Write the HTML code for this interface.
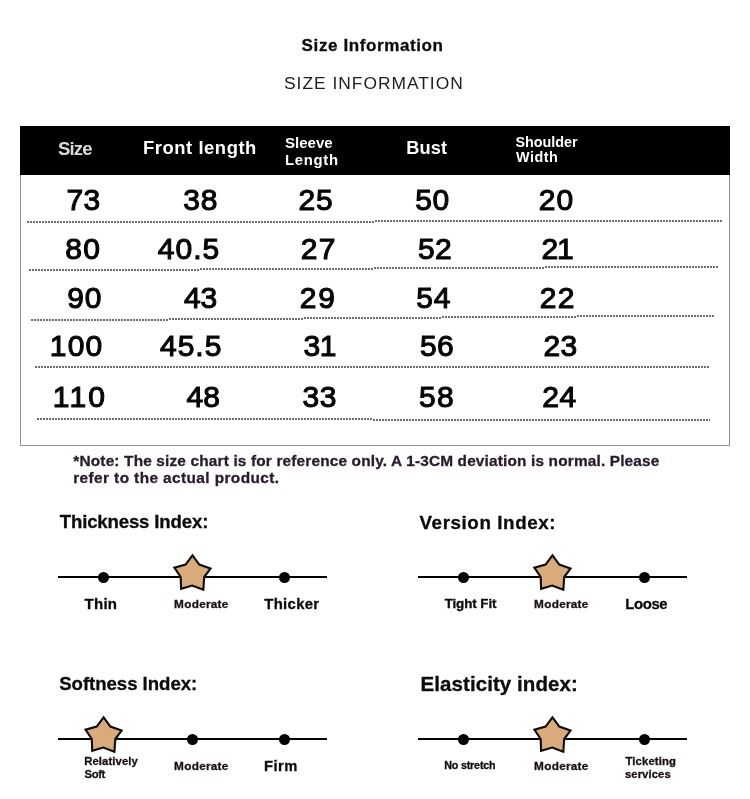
<!DOCTYPE html>
<html><head><meta charset="utf-8"><title>Size Information</title>
<style>
html,body{margin:0;padding:0;background:#fff;}
body{width:750px;height:799px;position:relative;overflow:hidden;font-family:"Liberation Sans",sans-serif;color:#111;}
.t{position:absolute;white-space:nowrap;line-height:1;margin:0;}
.box{position:absolute;left:20px;top:126px;width:710px;height:320px;border:1px solid #8f8f8f;box-sizing:border-box;}
.hd{position:absolute;left:20px;top:126px;width:710px;height:48.7px;background:#000;}
.dl{position:absolute;height:2px;background:repeating-linear-gradient(90deg,#6e6e6e 0,#6e6e6e 2px,transparent 2px,transparent 3px);}
.ln{position:absolute;height:2px;background:#000;}
.dot{position:absolute;width:11px;height:11px;border-radius:50%;background:#000;}
svg.star{position:absolute;overflow:visible;}
</style></head><body>
<div class="box"></div>
<div class="hd"></div>
<div class="dl" style="left:27px;top:221px;width:348px;"></div>
<div class="dl" style="left:375px;top:220px;width:347px;"></div>
<div class="dl" style="left:29px;top:269px;width:171px;"></div>
<div class="dl" style="left:200px;top:268px;width:174px;"></div>
<div class="dl" style="left:374px;top:267px;width:171px;"></div>
<div class="dl" style="left:545px;top:266px;width:173px;"></div>
<div class="dl" style="left:31px;top:319px;width:138px;"></div>
<div class="dl" style="left:169px;top:318px;width:135px;"></div>
<div class="dl" style="left:304px;top:317px;width:138px;"></div>
<div class="dl" style="left:442px;top:316px;width:135px;"></div>
<div class="dl" style="left:577px;top:315px;width:137px;"></div>
<div class="dl" style="left:35px;top:366px;width:674px;"></div>
<div class="dl" style="left:37px;top:418px;width:336px;"></div>
<div class="dl" style="left:373px;top:419px;width:337px;"></div>
<div class="t" style="left:301.62px;top:37.0px;font-size:17px;font-weight:bold;color:#0c0c0c;letter-spacing:0.61px;-webkit-text-stroke:0.3px #0c0c0c;">Size Information</div>
<div class="t" style="left:284.01px;top:75.0px;font-size:17.4px;font-weight:normal;color:#1e1e1e;letter-spacing:0.99px;">SIZE INFORMATION</div>
<div class="t" style="left:58.04px;top:140.0px;font-size:18.6px;font-weight:bold;color:#dadada;letter-spacing:-0.89px;">Size</div>
<div class="t" style="left:143.03px;top:139.0px;font-size:18.4px;font-weight:bold;color:#fff;letter-spacing:0.55px;">Front length</div>
<div class="t" style="left:284.93px;top:135.0px;font-size:15.1px;font-weight:bold;color:#fff;letter-spacing:0.00px;">Sleeve</div>
<div class="t" style="left:285.00px;top:153.0px;font-size:14.9px;font-weight:bold;color:#fff;letter-spacing:0.70px;">Length</div>
<div class="t" style="left:406.37px;top:139.0px;font-size:18.2px;font-weight:bold;color:#fff;letter-spacing:0.11px;">Bust</div>
<div class="t" style="left:515.48px;top:135.0px;font-size:14.4px;font-weight:bold;color:#fff;letter-spacing:-0.05px;">Shoulder</div>
<div class="t" style="left:516.00px;top:150.0px;font-size:14.4px;font-weight:bold;color:#fff;letter-spacing:0.50px;">Width</div>
<div class="t" style="left:66.52px;top:185.0px;font-size:30px;font-weight:normal;color:#060606;letter-spacing:0.32px;-webkit-text-stroke:1.1px #060606;">73</div>
<div class="t" style="left:183.25px;top:185.0px;font-size:30px;font-weight:normal;color:#060606;letter-spacing:0.76px;-webkit-text-stroke:1.1px #060606;">38</div>
<div class="t" style="left:298.61px;top:185.0px;font-size:30px;font-weight:normal;color:#060606;letter-spacing:0.78px;-webkit-text-stroke:1.1px #060606;">25</div>
<div class="t" style="left:415.36px;top:185.0px;font-size:30px;font-weight:normal;color:#060606;letter-spacing:0.49px;-webkit-text-stroke:1.1px #060606;">50</div>
<div class="t" style="left:538.87px;top:185.0px;font-size:30px;font-weight:normal;color:#060606;letter-spacing:1.03px;-webkit-text-stroke:1.1px #060606;">20</div>
<div class="t" style="left:65.18px;top:234.0px;font-size:30px;font-weight:normal;color:#060606;letter-spacing:1.46px;-webkit-text-stroke:1.1px #060606;">80</div>
<div class="t" style="left:157.69px;top:234.0px;font-size:30px;font-weight:normal;color:#060606;letter-spacing:1.04px;-webkit-text-stroke:1.1px #060606;">40.5</div>
<div class="t" style="left:300.87px;top:234.0px;font-size:30px;font-weight:normal;color:#060606;letter-spacing:1.17px;-webkit-text-stroke:1.1px #060606;">27</div>
<div class="t" style="left:417.95px;top:234.0px;font-size:30px;font-weight:normal;color:#060606;letter-spacing:0.45px;-webkit-text-stroke:1.1px #060606;">52</div>
<div class="t" style="left:541.53px;top:234.0px;font-size:30px;font-weight:normal;color:#060606;letter-spacing:-1.23px;-webkit-text-stroke:1.1px #060606;">21</div>
<div class="t" style="left:67.19px;top:283.0px;font-size:30px;font-weight:normal;color:#060606;letter-spacing:0.81px;-webkit-text-stroke:1.1px #060606;">90</div>
<div class="t" style="left:184.00px;top:283.0px;font-size:30px;font-weight:normal;color:#060606;letter-spacing:-0.10px;-webkit-text-stroke:1.1px #060606;">43</div>
<div class="t" style="left:299.87px;top:283.0px;font-size:30px;font-weight:normal;color:#060606;letter-spacing:1.60px;-webkit-text-stroke:1.1px #060606;">29</div>
<div class="t" style="left:416.36px;top:283.0px;font-size:30px;font-weight:normal;color:#060606;letter-spacing:0.82px;-webkit-text-stroke:1.1px #060606;">54</div>
<div class="t" style="left:539.87px;top:283.0px;font-size:30px;font-weight:normal;color:#060606;letter-spacing:1.33px;-webkit-text-stroke:1.1px #060606;">22</div>
<div class="t" style="left:49.78px;top:331.0px;font-size:30px;font-weight:normal;color:#060606;letter-spacing:1.22px;-webkit-text-stroke:1.1px #060606;">100</div>
<div class="t" style="left:160.00px;top:331.0px;font-size:30px;font-weight:normal;color:#060606;letter-spacing:1.00px;-webkit-text-stroke:1.1px #060606;">45.5</div>
<div class="t" style="left:303.38px;top:331.0px;font-size:30px;font-weight:normal;color:#060606;letter-spacing:-0.30px;-webkit-text-stroke:1.1px #060606;">31</div>
<div class="t" style="left:419.99px;top:331.0px;font-size:30px;font-weight:normal;color:#060606;letter-spacing:0.36px;-webkit-text-stroke:1.1px #060606;">56</div>
<div class="t" style="left:543.61px;top:331.0px;font-size:30px;font-weight:normal;color:#060606;letter-spacing:0.23px;-webkit-text-stroke:1.1px #060606;">23</div>
<div class="t" style="left:52.78px;top:382.0px;font-size:30px;font-weight:normal;color:#060606;letter-spacing:2.22px;-webkit-text-stroke:1.1px #060606;">110</div>
<div class="t" style="left:186.43px;top:382.0px;font-size:30px;font-weight:normal;color:#060606;letter-spacing:0.02px;-webkit-text-stroke:1.1px #060606;">48</div>
<div class="t" style="left:302.38px;top:382.0px;font-size:30px;font-weight:normal;color:#060606;letter-spacing:0.62px;-webkit-text-stroke:1.1px #060606;">33</div>
<div class="t" style="left:418.99px;top:382.0px;font-size:30px;font-weight:normal;color:#060606;letter-spacing:1.41px;-webkit-text-stroke:1.1px #060606;">58</div>
<div class="t" style="left:542.13px;top:382.0px;font-size:30px;font-weight:normal;color:#060606;letter-spacing:0.76px;-webkit-text-stroke:1.1px #060606;">24</div>
<div class="t" style="left:73.37px;top:453.0px;font-size:15.4px;font-weight:bold;color:#2a1a2e;letter-spacing:0.16px;-webkit-text-stroke:0.3px #2a1a2e;">*Note: The size chart is for reference only. A 1-3CM deviation is normal. Please</div>
<div class="t" style="left:73.22px;top:470.0px;font-size:15.4px;font-weight:bold;color:#2a1a2e;letter-spacing:0.40px;-webkit-text-stroke:0.3px #2a1a2e;">refer to the actual product.</div>
<div class="t" style="left:59.72px;top:513.0px;font-size:18.6px;font-weight:bold;color:#0c0c0c;letter-spacing:-0.15px;-webkit-text-stroke:0.3px #0c0c0c;">Thickness Index:</div>
<div class="t" style="left:419.53px;top:514.0px;font-size:18.8px;font-weight:bold;color:#0c0c0c;letter-spacing:0.59px;-webkit-text-stroke:0.3px #0c0c0c;">Version Index:</div>
<div class="t" style="left:59.21px;top:675.0px;font-size:18.6px;font-weight:bold;color:#0c0c0c;letter-spacing:-0.03px;-webkit-text-stroke:0.3px #0c0c0c;">Softness Index:</div>
<div class="t" style="left:420.62px;top:674.0px;font-size:20.5px;font-weight:bold;color:#0c0c0c;letter-spacing:0.07px;-webkit-text-stroke:0.3px #0c0c0c;">Elasticity index:</div>
<div class="t" style="left:84.57px;top:596.0px;font-size:15px;font-weight:bold;color:#0c0c0c;letter-spacing:0.25px;-webkit-text-stroke:0.3px #0c0c0c;">Thin</div>
<div class="t" style="left:174.11px;top:599.0px;font-size:11.8px;font-weight:bold;color:#180f15;letter-spacing:0.26px;-webkit-text-stroke:0.3px #180f15;">Moderate</div>
<div class="t" style="left:264.29px;top:597.0px;font-size:14.9px;font-weight:bold;color:#0c0c0c;letter-spacing:0.31px;-webkit-text-stroke:0.3px #0c0c0c;">Thicker</div>
<div class="t" style="left:444.63px;top:597.0px;font-size:13.4px;font-weight:bold;color:#0c0c0c;letter-spacing:-0.08px;-webkit-text-stroke:0.3px #0c0c0c;">Tight Fit</div>
<div class="t" style="left:534.11px;top:599.0px;font-size:11.8px;font-weight:bold;color:#180f15;letter-spacing:0.26px;-webkit-text-stroke:0.3px #180f15;">Moderate</div>
<div class="t" style="left:625.15px;top:597.0px;font-size:14.9px;font-weight:bold;color:#0c0c0c;letter-spacing:-0.34px;-webkit-text-stroke:0.3px #0c0c0c;">Loose</div>
<div class="t" style="left:84.15px;top:756.0px;font-size:11.3px;font-weight:bold;color:#180f15;letter-spacing:0.11px;-webkit-text-stroke:0.3px #180f15;">Relatively</div>
<div class="t" style="left:84.47px;top:769.0px;font-size:11.3px;font-weight:bold;color:#180f15;letter-spacing:-0.36px;-webkit-text-stroke:0.3px #180f15;">Soft</div>
<div class="t" style="left:174.11px;top:761.0px;font-size:11.8px;font-weight:bold;color:#180f15;letter-spacing:0.26px;-webkit-text-stroke:0.3px #180f15;">Moderate</div>
<div class="t" style="left:264.00px;top:759.0px;font-size:14.7px;font-weight:bold;color:#0c0c0c;letter-spacing:0.53px;-webkit-text-stroke:0.3px #0c0c0c;">Firm</div>
<div class="t" style="left:444.21px;top:760.0px;font-size:10.7px;font-weight:bold;color:#0c0c0c;letter-spacing:-0.16px;-webkit-text-stroke:0.3px #0c0c0c;">No stretch</div>
<div class="t" style="left:534.11px;top:761.0px;font-size:11.8px;font-weight:bold;color:#180f15;letter-spacing:0.26px;-webkit-text-stroke:0.3px #180f15;">Moderate</div>
<div class="t" style="left:625.52px;top:756.0px;font-size:11.3px;font-weight:bold;color:#180f15;letter-spacing:0.13px;-webkit-text-stroke:0.3px #180f15;">Ticketing</div>
<div class="t" style="left:624.90px;top:769.0px;font-size:11.3px;font-weight:bold;color:#180f15;letter-spacing:0.09px;-webkit-text-stroke:0.3px #180f15;">services</div>
<div class="ln" style="left:58px;top:576px;width:269px;"></div>
<div class="dot" style="left:98.0px;top:571.9px;"></div>
<svg class="star" style="left:0;top:0" width="750" height="799"><polygon points="192.5,555.3 199.3,564.6 210.5,568.6 204.2,577.0 203.3,589.8 192.2,585.5 181.1,588.8 180.7,577.0 174.4,567.7 185.6,564.6" fill="#d9ab7a" stroke="#0c0c0c" stroke-width="2.1" stroke-linejoin="miter"/></svg>
<div class="dot" style="left:279.0px;top:571.9px;"></div>
<div class="ln" style="left:418px;top:576px;width:269px;"></div>
<div class="dot" style="left:458.0px;top:571.9px;"></div>
<svg class="star" style="left:0;top:0" width="750" height="799"><polygon points="552.5,555.3 559.3,564.6 570.5,568.6 564.2,577.0 563.3,589.8 552.2,585.5 541.1,588.8 540.7,577.0 534.4,567.7 545.6,564.6" fill="#d9ab7a" stroke="#0c0c0c" stroke-width="2.1" stroke-linejoin="miter"/></svg>
<div class="dot" style="left:639.0px;top:571.9px;"></div>
<div class="ln" style="left:58px;top:738px;width:269px;"></div>
<svg class="star" style="left:0;top:0" width="750" height="799"><polygon points="103.6,717.3 110.4,726.6 121.6,730.6 115.3,739.0 114.4,751.8 103.3,747.5 92.2,750.8 91.8,739.0 85.5,729.7 96.7,726.6" fill="#d9ab7a" stroke="#0c0c0c" stroke-width="2.1" stroke-linejoin="miter"/></svg>
<div class="dot" style="left:186.7px;top:733.9px;"></div>
<div class="dot" style="left:279.0px;top:733.9px;"></div>
<div class="ln" style="left:418px;top:738px;width:269px;"></div>
<div class="dot" style="left:458.0px;top:733.9px;"></div>
<svg class="star" style="left:0;top:0" width="750" height="799"><polygon points="552.5,717.3 559.3,726.6 570.5,730.6 564.2,739.0 563.3,751.8 552.2,747.5 541.1,750.8 540.7,739.0 534.4,729.7 545.6,726.6" fill="#d9ab7a" stroke="#0c0c0c" stroke-width="2.1" stroke-linejoin="miter"/></svg>
<div class="dot" style="left:639.0px;top:733.9px;"></div>
</body></html>
